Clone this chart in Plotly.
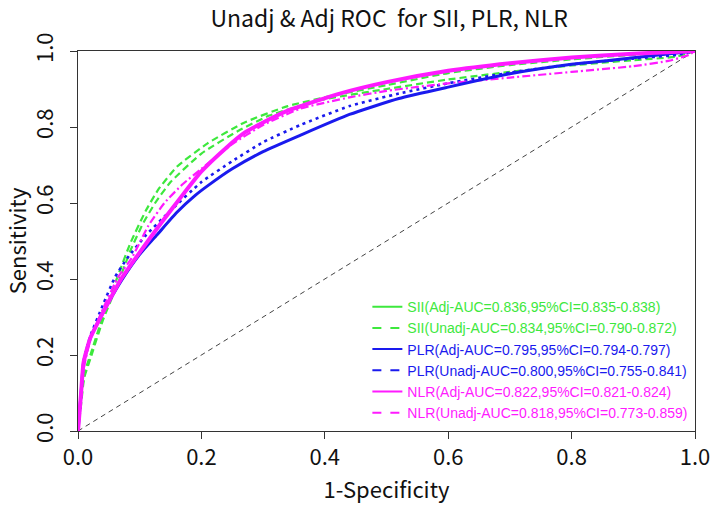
import plotly.graph_objects as go

# ---- data ----
sii_adj_x = [0, 0.005, 0.01, 0.02, 0.04, 0.065, 0.085, 0.105, 0.125, 0.15, 0.2, 0.26, 0.31, 0.39, 0.5, 0.6, 0.7, 0.8, 0.9, 0.97, 1]
sii_adj_y = [0, 0.07, 0.14, 0.19, 0.29, 0.39, 0.475, 0.545, 0.6, 0.655, 0.73, 0.79, 0.83, 0.87, 0.9, 0.925, 0.945, 0.962, 0.976, 0.985, 1]

sii_un_x = [0, 0.005, 0.01, 0.02, 0.04, 0.065, 0.085, 0.11, 0.13, 0.16, 0.21, 0.27, 0.34, 0.42, 0.5, 0.6, 0.7, 0.8, 0.9, 1]
sii_un_y = [0, 0.08, 0.15, 0.2, 0.3, 0.41, 0.495, 0.58, 0.635, 0.695, 0.757, 0.812, 0.855, 0.885, 0.91, 0.942, 0.963, 0.978, 0.99, 1]

plr_adj_x = [0, 0.005, 0.009, 0.02, 0.04, 0.07, 0.1, 0.13, 0.16, 0.19, 0.21, 0.25, 0.3, 0.36, 0.44, 0.52, 0.6, 0.7, 0.8, 0.9, 1]
plr_adj_y = [0, 0.1, 0.18, 0.245, 0.31, 0.395, 0.465, 0.52, 0.575, 0.62, 0.645, 0.69, 0.735, 0.778, 0.833, 0.875, 0.905, 0.94, 0.965, 0.982, 1]

plr_un_x = [0, 0.005, 0.01, 0.02, 0.04, 0.06, 0.08, 0.11, 0.15, 0.2, 0.25, 0.3, 0.36, 0.44, 0.52, 0.6, 0.7, 0.8, 0.9, 0.97, 1]
plr_un_y = [0, 0.1, 0.19, 0.25, 0.33, 0.405, 0.455, 0.515, 0.58, 0.655, 0.71, 0.76, 0.805, 0.855, 0.888, 0.915, 0.943, 0.965, 0.98, 0.99, 1]

nlr_adj_x = [0, 0.005, 0.009, 0.02, 0.04, 0.07, 0.1, 0.135, 0.17, 0.2, 0.24, 0.27, 0.3, 0.34, 0.42, 0.5, 0.6, 0.7, 0.8, 0.9, 1]
nlr_adj_y = [0, 0.1, 0.18, 0.245, 0.31, 0.4, 0.47, 0.548, 0.622, 0.683, 0.745, 0.785, 0.812, 0.843, 0.886, 0.918, 0.948, 0.968, 0.983, 0.993, 1]

nlr_un_x = [0, 0.005, 0.01, 0.02, 0.04, 0.065, 0.087, 0.114, 0.14, 0.17, 0.2, 0.25, 0.3, 0.36, 0.44, 0.5, 0.6, 0.7, 0.8, 0.9, 0.96, 0.99, 1]
nlr_un_y = [0, 0.09, 0.17, 0.24, 0.32, 0.405, 0.455, 0.54, 0.6, 0.65, 0.69, 0.755, 0.805, 0.848, 0.878, 0.895, 0.915, 0.93, 0.945, 0.96, 0.975, 0.99, 1]

diag_x = [0, 1]
diag_y = [0, 1]

labels = [
    "SII(Adj-AUC=0.836,95%CI=0.835-0.838)",
    "SII(Unadj-AUC=0.834,95%CI=0.790-0.872)",
    "PLR(Adj-AUC=0.795,95%CI=0.794-0.797)",
    "PLR(Unadj-AUC=0.800,95%CI=0.755-0.841)",
    "NLR(Adj-AUC=0.822,95%CI=0.821-0.824)",
    "NLR(Unadj-AUC=0.818,95%CI=0.773-0.859)",
]

GREEN = "#3de83d"
BLUE = "#1a1aee"
MAGENTA = "#ff1aff"
FONT = "Noto Sans CJK SC"

fig = go.Figure()

fig.add_trace(go.Scatter(x=diag_x, y=diag_y, mode="lines",
                         line=dict(color="#444444", width=1, dash="5px,4px"),
                         showlegend=False, hoverinfo="skip"))

curves = [
    (sii_adj_x, sii_adj_y, GREEN, 2.2, "7px,4px"),
    (sii_un_x, sii_un_y, GREEN, 2.2, "7px,4px"),
    (plr_un_x, plr_un_y, BLUE, 2.6, "3px,4px"),
    (nlr_un_x, nlr_un_y, MAGENTA, 2.2, "8px,3px,2px,3px"),
    (plr_adj_x, plr_adj_y, BLUE, 3, "solid"),
    (nlr_adj_x, nlr_adj_y, MAGENTA, 4, "solid"),
]
for xs, ys, c, w, d in curves:
    fig.add_trace(go.Scatter(x=xs, y=ys, mode="lines",
                             line=dict(color=c, width=w, dash=d, shape="spline", smoothing=0.5),
                             showlegend=False))

legend_styles = [
    (GREEN, "solid"), (GREEN, "dash"),
    (BLUE, "solid"), (BLUE, "dash"),
    (MAGENTA, "solid"), (MAGENTA, "dash"),
]
for lab, (c, d) in zip(labels, legend_styles):
    fig.add_trace(go.Scatter(x=[None], y=[None], mode="lines",
                             line=dict(color=c, width=2, dash=d),
                             name=f"<span style='color:{c}'>{lab}</span>", showlegend=True))

axis_common = dict(range=[0, 1], showgrid=False, zeroline=False, showline=True, linecolor="#333333",
                   linewidth=1, mirror=True, ticks="outside", ticklen=7, tickcolor="#333333",
                   automargin=False,
                   tickvals=[0, 0.2, 0.4, 0.6, 0.8, 1.0], ticktext=["0.0", "0.2", "0.4", "0.6", "0.8", "1.0"],
                   tickfont=dict(family=FONT, size=22, color="#111111"))

fig.update_layout(
    width=714, height=511,
    margin=dict(l=78, r=19, t=51, b=80),
    paper_bgcolor="white", plot_bgcolor="white",
    title=dict(text="Unadj &amp; Adj ROC  for SII, PLR, NLR", x=0.545, xanchor="center", y=0.962, yanchor="middle",
               font=dict(family=FONT, size=23, color="#111111")),
    xaxis=dict(**axis_common, title=dict(text="1-Specificity", standoff=12,
                                         font=dict(family=FONT, size=22, color="#111111"))),
    yaxis=dict(**axis_common, tickangle=-90, ticklabelstandoff=8,
               title=dict(text="Sensitivity", standoff=2,
                          font=dict(family=FONT, size=22, color="#111111"))),
    legend=dict(x=0.469, y=0.005, xanchor="left", yanchor="bottom", bgcolor="rgba(0,0,0,0)",
                font=dict(family="Liberation Sans", size=14), itemwidth=30, tracegroupgap=0),
    showlegend=True,
)

fig.write_html("out.html")
